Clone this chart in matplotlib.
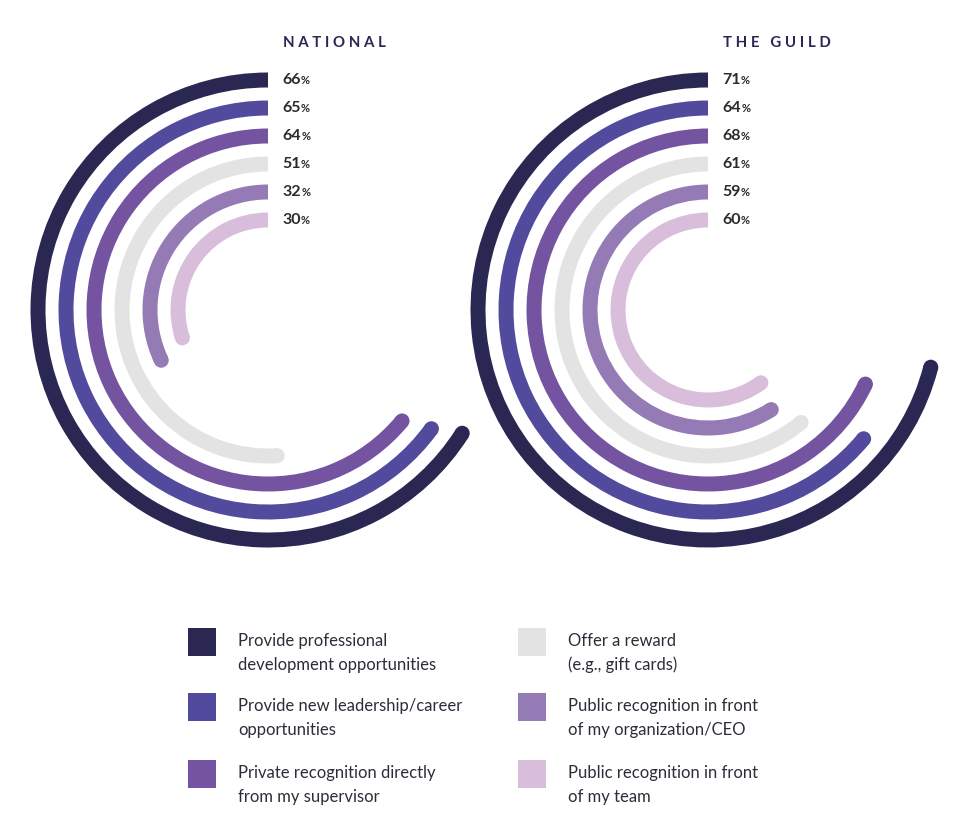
import numpy as np
import matplotlib.pyplot as plt
from matplotlib.patches import Wedge, Circle, Rectangle

# data
categories = [
    'Provide professional\ndevelopment opportunities',
    'Provide new leadership/career\nopportunities',
    'Private recognition directly\nfrom my supervisor',
    'Offer a reward\n(e.g., gift cards)',
    'Public recognition in front\nof my organization/CEO',
    'Public recognition in front\nof my team',
]
national = [66, 65, 64, 51, 32, 30]
guild = [71, 64, 68, 61, 59, 60]
groups = ['NATIONAL', 'THE GUILD']
colors = ['#2a2753', '#524a9c', '#7454a0', '#e3e3e3', '#957bb5', '#d9bedc']

plt.rcParams['font.family'] = ['Lato', 'DejaVu Sans']

W, H = 975, 835
fig = plt.figure(figsize=(W / 100, H / 100), dpi=100)
ax = fig.add_axes([0, 0, 1, 1])
ax.set_xlim(0, W)
ax.set_ylim(0, H)
ax.set_aspect('equal')
ax.axis('off')

centers = [(268, H - 310), (708, H - 310)]
r_outer = 230
step = 28
lw = 15

texts = []
for (cx, cy), name, vals in zip(centers, groups, [national, guild]):
    ax.text(cx + 15, H - 43, ' '.join(name), fontsize=10.8, fontweight='bold',
            color='#2a2753', ha='left', va='center')
    for i, v in enumerate(vals):
        r = r_outer - i * step
        t1 = 90
        t2 = 90 + 360 * v / 100
        ax.add_patch(Wedge((cx, cy), r + lw / 2, t1, t2, width=lw,
                           facecolor=colors[i], edgecolor='none'))
        a = np.deg2rad(t2)
        ax.add_patch(Circle((cx + r * np.cos(a), cy + r * np.sin(a)), lw / 2,
                            facecolor=colors[i], edgecolor='none'))
        t = ax.text(cx + 14, cy + r, str(v), fontsize=11.5, fontweight='bold',
                    color='#2b2b2b', ha='left', va='center')
        texts.append(t)

# small percent signs after the numbers
fig.canvas.draw()
renderer = fig.canvas.get_renderer()
for t in texts:
    bb = t.get_window_extent(renderer)
    x, y = t.get_position()
    ax.text(bb.x1 + 0.5, y - 1, '%', fontsize=8, fontweight='bold',
            color='#2b2b2b', ha='left', va='center')

# legend
leg_x = [188, 518]
leg_y = [H - 628, H - 693, H - 760]
for i, label in enumerate(categories):
    col = i // 3
    row = i % 3
    x0 = leg_x[col]
    y0 = leg_y[row]
    ax.add_patch(Rectangle((x0, y0 - 28), 28, 28, facecolor=colors[i],
                           edgecolor='none'))
    for j, line in enumerate(label.split('\n')):
        ax.text(x0 + 50, y0 - 13 - 24 * j, line, fontsize=12,
                color='#2d2d3a', ha='left', va='center')

fig.savefig('out.png', dpi=100)
